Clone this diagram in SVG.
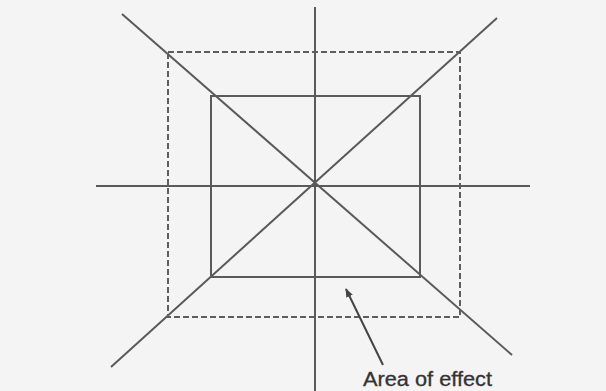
<svg xmlns="http://www.w3.org/2000/svg" width="606" height="391" viewBox="0 0 606 391">
<defs>
<style>
.ln{stroke:#5a5a5a;stroke-width:2;fill:none;stroke-linecap:butt}
.dash{stroke:#5e5e5e;stroke-width:2;fill:none;stroke-dasharray:6 3}
.lbl{font-family:"Liberation Sans",Arial,sans-serif;font-size:20px;fill:#333333;stroke:#333333;stroke-width:0.3}
</style>
<marker id="ah" viewBox="0 0 10 10" refX="9" refY="5" markerWidth="9" markerHeight="9" markerUnits="userSpaceOnUse" orient="auto">
<path d="M0,1 L10,5 L0,9 Z" fill="#444"/>
</marker>
</defs>
<rect width="606" height="391" fill="#f4f4f4"/>
<g id="axes">
<line class="ln" x1="315" y1="7" x2="315" y2="391"/>
<line class="ln" x1="96" y1="186" x2="530" y2="186"/>
</g>
<g id="diagonals">
<line class="ln" x1="122" y1="14" x2="512" y2="355"/>
<line class="ln" x1="497" y1="18" x2="111" y2="367"/>
</g>
<g id="inner-rect">
<rect class="ln" x="211" y="96" width="209" height="181"/>
</g>
<g id="outer-rect">
<rect class="dash" x="168" y="52" width="292" height="265"/>
</g>
<g id="connectors">
<line x1="383" y1="365" x2="346" y2="289" stroke="#444" stroke-width="2" marker-end="url(#ah)"/>
</g>
<g id="label">
<text class="lbl" x="363" y="386" textLength="129" lengthAdjust="spacingAndGlyphs">Area of effect</text>
</g>
</svg>
